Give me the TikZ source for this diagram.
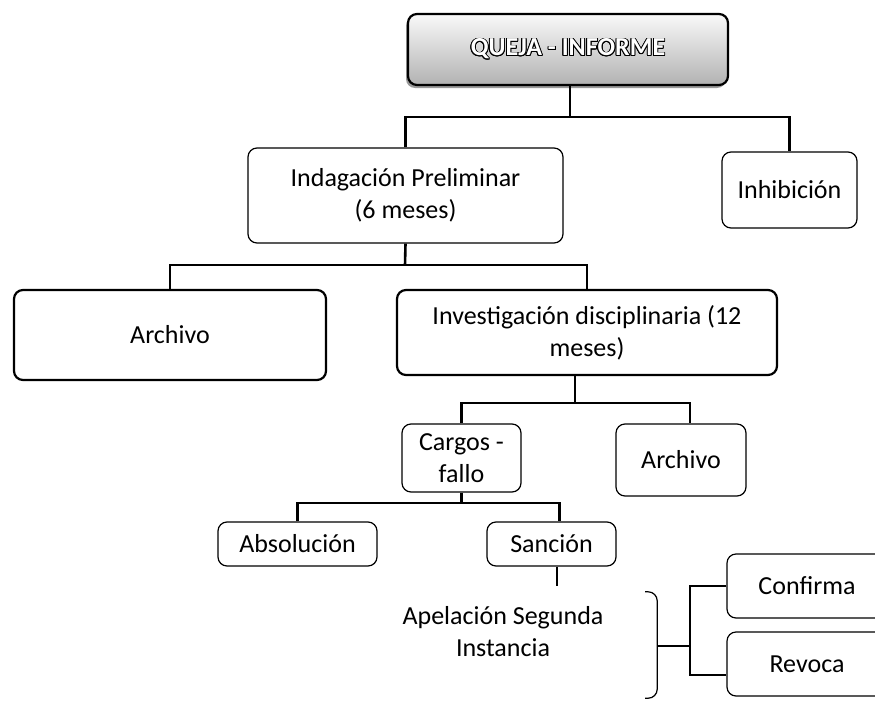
\documentclass[tikz,border=0pt]{standalone}
\usepackage{fontspec}
\setmainfont{Carlito}
\usepackage{contour}
\usepackage{tikz}
\usetikzlibrary{positioning,shadows}

\contourlength{0.9pt}

\begin{document}
\begin{tikzpicture}[
			x=1pt,y=-1pt,
			every node/.style={font=\fontsize{26}{32}\selectfont,align=center,inner sep=0pt},
			block/.style={draw,rounded corners=9pt,line width=1.2pt},
			heavy/.style={block,line width=2.2pt},
			conn/.style={line width=2.6pt}
			]
			
			\path[use as bounding box] (0,0) rectangle (875,701);
			\clip (0,0) rectangle (875,701);
			
			\node[heavy,minimum width=320pt,minimum height=71pt,
			top color=gray!5,bottom color=gray!60,
			drop shadow={shadow xshift=-2pt,shadow yshift=-3pt,opacity=0.8}] (queja) at (568,49.5)
			{\bfseries\contour{black}{\textcolor{white}{QUEJA - INFORME}}};
			
			\node[block,minimum width=315pt,minimum height=95pt] (indag) at (405.5,195.5)
			{Indagación Preliminar\\(6 meses)};
			
			\node[block,minimum width=135pt,minimum height=76pt] (inhib) at (789.5,190)
			{Inhibición};
			
			\node[heavy,minimum width=312pt,minimum height=90pt] (arch1) at (170,335)
			{Archivo};
			
			\node[heavy,minimum width=380pt,minimum height=85pt] (invest) at (587,332.5)
			{Investigación disciplinaria (12\\meses)};
			
			\node[block,minimum width=119pt,minimum height=68pt] (cargos) at (461.5,458)
			{Cargos -\\fallo};
			
			\node[block,minimum width=130pt,minimum height=72pt] (arch2) at (681,460)
			{Archivo};
			
			\node[block,minimum width=159pt,minimum height=44pt] (absol) at (297.5,544)
			{Absolución};
			
			\node[block,minimum width=129pt,minimum height=44pt] (sancion) at (551.5,544)
			{Sanción};
			
			\node[minimum width=308pt,minimum height=80pt] (apel) at (503,632)
			{Apelación Segunda\\Instancia};
			
			\node[block,minimum width=160pt,minimum height=64pt] (confirma) at (807,586)
			{Confirma};
			
			\node[block,minimum width=160pt,minimum height=64pt] (revoca) at (807,664)
			{Revoca};
			
			% visible right side of the appeal box
			\draw[block] ([xshift=-12pt]apel.north east) -- (apel.north east)
			-- ([yshift=-26pt]apel.south east) -- ([xshift=-12pt,yshift=-26pt]apel.south east);
			
			% tree lines
			\coordinate (j0) at (570,117);
			\coordinate (j1) at (405,265);
			\coordinate (j2) at (575,403);
			\coordinate (j3) at (461.5,503);
			\coordinate (j4) at (557,586);
			\coordinate (j5) at (690,646);
			
			\draw[conn] (queja.south -| j0)--(j0);
			\draw[conn] (indag.north) |- (j0) -| (inhib.north);
			\draw[conn] (indag.south)--(j1);
			\draw[conn] (arch1.north) |- (j1) -| (invest.north);
			\draw[conn] (invest.south -| j2)--(j2);
			\draw[conn] (cargos.north) |- (j2) -| ([xshift=9pt]arch2.north);
			\draw[conn] (cargos.south)--(j3);
			\draw[conn] (absol.north) |- (j3) -| ([xshift=8pt]sancion.north);
			\draw[conn] (sancion.south -| j4)--(j4);
			\draw[conn] ([yshift=-14pt]apel.east)--(j5);
			\draw[conn] (confirma.west) -| (j5) |- ([yshift=-11pt]revoca.west);
			
		\end{tikzpicture}
\end{document}
